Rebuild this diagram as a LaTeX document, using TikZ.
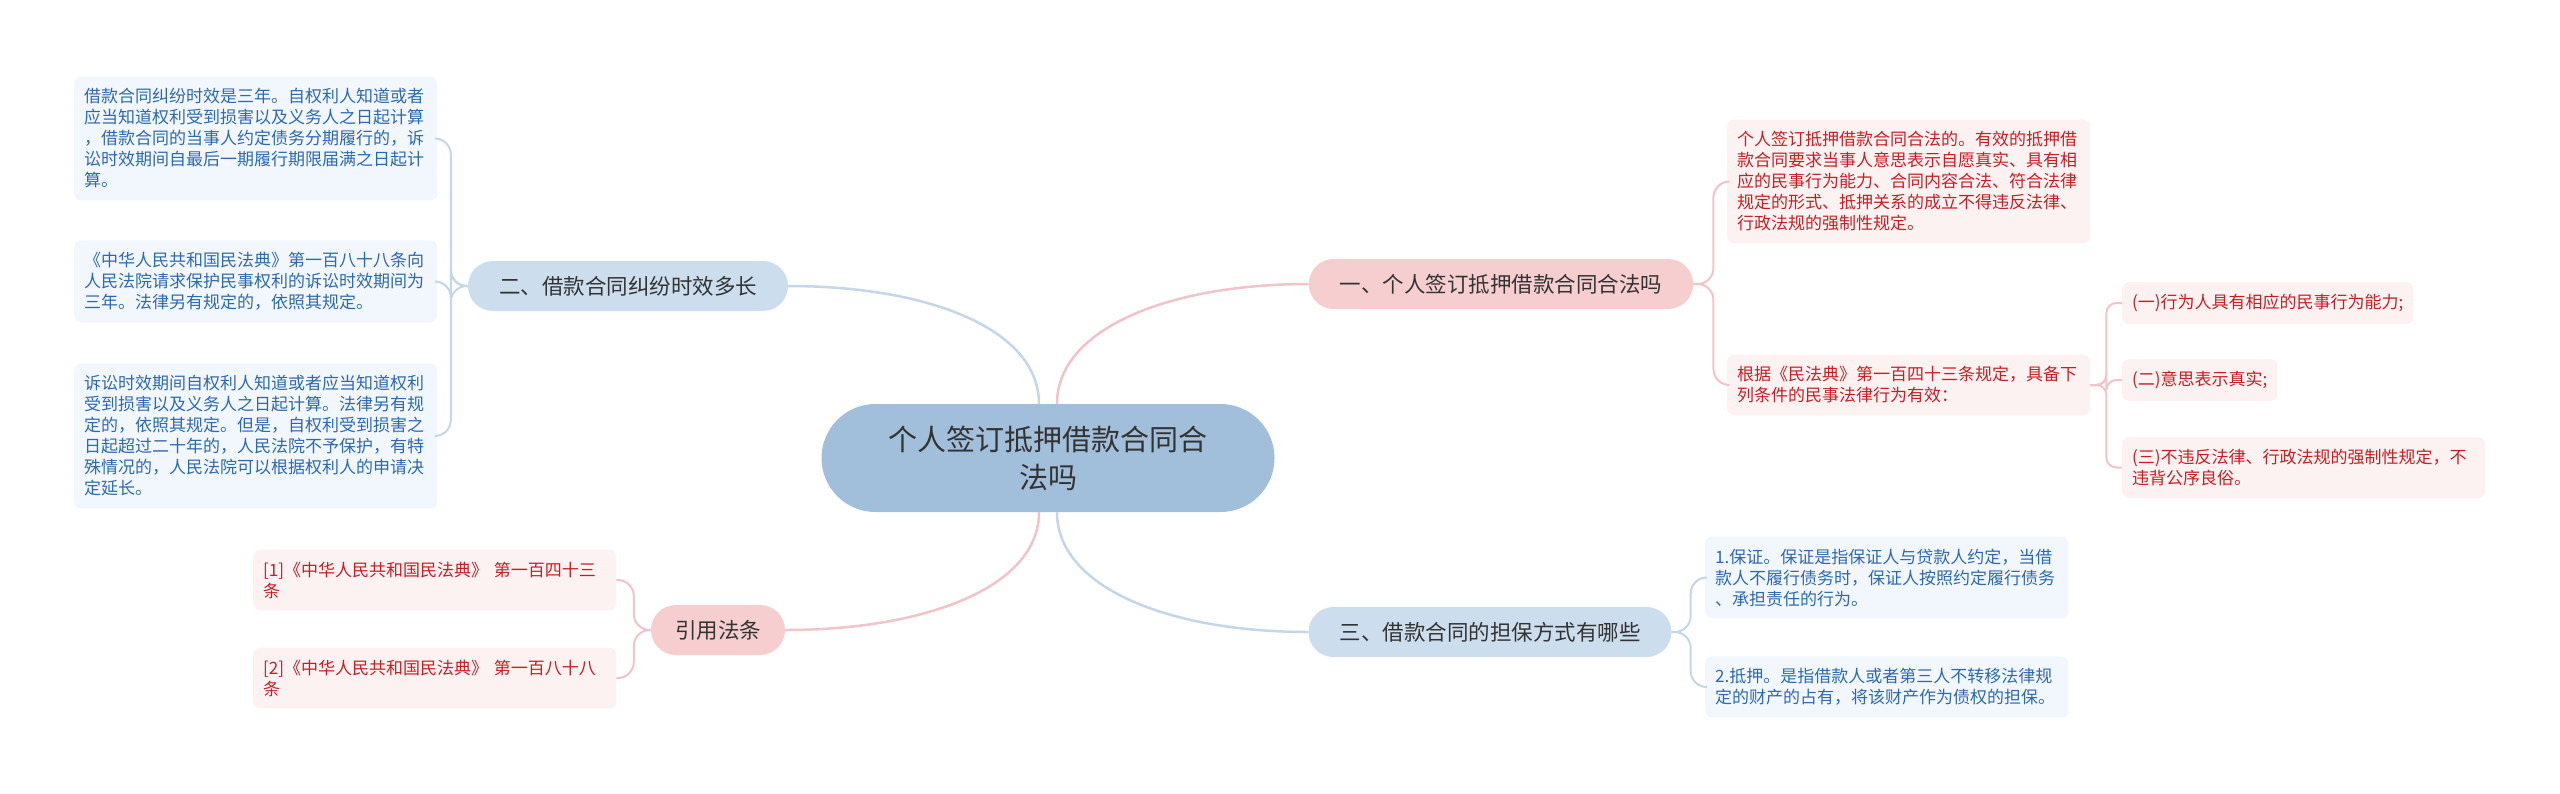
\documentclass[tikz,border=0pt]{standalone}
\usepackage{fontspec}
\setmainfont{Noto Sans CJK SC}
\usepackage{xcolor}
\usepackage{tikz}
\usetikzlibrary{positioning,calc}
\definecolor{ink}{RGB}{51,51,51}
\definecolor{hubblue}{RGB}{161,190,218}
\definecolor{paleblue}{RGB}{204,222,238}
\definecolor{palered}{RGB}{246,206,207}
\definecolor{mistblue}{RGB}{242,247,253}
\definecolor{mistred}{RGB}{253,242,242}
\definecolor{textblue}{RGB}{45,105,175}
\definecolor{textred}{RGB}{200,30,35}
\definecolor{wireblue}{RGB}{197,214,232}
\definecolor{wirered}{RGB}{240,196,200}
\tikzset{
  hub/.style={fill=hubblue,rounded corners=54pt,minimum width=453pt,
    minimum height=108pt,align=center,text=ink,font=\fontsize{29}{38}\selectfont},
  topic/.style={rounded corners=25pt,minimum height=50pt,inner xsep=31pt,
    text=ink,font=\fontsize{21.5}{26}\selectfont},
  topicred/.style={topic,fill=palered},
  topicblue/.style={topic,fill=paleblue},
  leaf/.style={anchor=west,rounded corners=7pt,align=left,inner xsep=10pt,
    inner ysep=12pt,font=\fontsize{17}{21}\selectfont},
  leafblue/.style={leaf,fill=mistblue,text=textblue},
  leafred/.style={leaf,fill=mistred,text=textred},
  wide/.style={text width=343pt},
  linkblue/.style={line width=2.5pt,wireblue},
  linkred/.style={line width=2.5pt,wirered},
  forkblue/.style={line width=2pt,wireblue,rounded corners=16pt},
  forkred/.style={line width=2pt,wirered,rounded corners=16pt}
}
\begin{document}
\begin{tikzpicture}[x=1pt,y=-1pt]
  \fill[white] (0,0) rectangle (2560,793);
  \useasboundingbox (0,0) rectangle (2560,793);
  % centre and main topics
  \node[hub] (c) at (1048,458) {个人签订抵押借款合同合\\法吗};
  \node[topicred] (n1) at (1501,284) {一、个人签订抵押借款合同合法吗};
  \node[topicblue] (n2) at (628,286) {二、借款合同纠纷时效多长};
  \node[topicblue] (n3) at (1490,632) {三、借款合同的担保方式有哪些};
  \node[topicred,inner xsep=24pt] (n4) at (718,630) {引用法条};
  % left leaves
  \node[leafblue,wide] (l1) at (74,138.5) {借款合同纠纷时效是三年。自权利人知道或者\\应当知道权利受到损害以及义务人之日起计算\\，借款合同的当事人约定债务分期履行的，诉\\讼时效期间自最后一期履行期限届满之日起计\\算。};
  \node[leafblue,wide] (l2) at (74,281.5) {《中华人民共和国民法典》第一百八十八条向\\人民法院请求保护民事权利的诉讼时效期间为\\三年。法律另有规定的，依照其规定。};
  \node[leafblue,wide] (l3) at (74,436) {诉讼时效期间自权利人知道或者应当知道权利\\受到损害以及义务人之日起计算。法律另有规\\定的，依照其规定。但是，自权利受到损害之\\日起超过二十年的，人民法院不予保护，有特\\殊情况的，人民法院可以根据权利人的申请决\\定延长。};
  \node[leafred,wide] (k1) at (253,580) {[1]《中华人民共和国民法典》 第一百四十三\\条};
  \node[leafred,wide] (k2) at (253,678) {[2]《中华人民共和国民法典》 第一百八十八\\条};
  % right leaves
  \node[leafred,wide] (r1) at (1727,181.5) {个人签订抵押借款合同合法的。有效的抵押借\\款合同要求当事人意思表示自愿真实、具有相\\应的民事行为能力、合同内容合法、符合法律\\规定的形式、抵押关系的成立不得违反法律、\\行政法规的强制性规定。};
  \node[leafred,wide] (r2) at (1727,385) {根据《民法典》第一百四十三条规定，具备下\\列条件的民事法律行为有效：};
  \node[leafred] (s1) at (2122,303) {(一)行为人具有相应的民事行为能力;};
  \node[leafred] (s2) at (2122,380) {(二)意思表示真实;};
  \node[leafred,wide] (s3) at (2122,467.5) {(三)不违反法律、行政法规的强制性规定，不\\违背公序良俗。};
  \node[leafblue,wide] (t1) at (1705,577.5) {1.保证。保证是指保证人与贷款人约定，当借\\款人不履行债务时，保证人按照约定履行债务\\、承担责任的行为。};
  \node[leafblue,wide] (t2) at (1705,687) {2.抵押。是指借款人或者第三人不转移法律规\\定的财产的占有，将该财产作为债权的担保。};
  % main curves
  \draw[linkblue] ([xshift=-9pt]c.north) .. controls +(0,-75) and +(140,0) .. (n2.east);
  \draw[linkred] ([xshift=9pt]c.north) .. controls +(0,-75) and +(-140,0) .. (n1.west);
  \draw[linkred] ([xshift=-9pt]c.south) .. controls +(0,75) and +(140,0) .. (n4.east);
  \draw[linkblue] ([xshift=9pt]c.south) .. controls +(0,75) and +(-140,0) .. (n3.west);
  % brackets
  \foreach \leafname in {l1,l2,l3} {\draw[forkblue] (n2.west) -- ++(-17,0) |- (\leafname.east);}
  \foreach \leafname in {k1,k2} {\draw[forkred] (n4.west) -- ++(-17,0) |- (\leafname.east);}
  \foreach \leafname in {r1,r2} {\draw[forkred] (n1.east) -- ++(20,0) |- (\leafname.west);}
  \foreach \leafname in {s1,s2,s3} {\draw[forkred,rounded corners=10pt] (r2.east) -- ++(16,0) |- (\leafname.west);}
  \foreach \leafname in {t1,t2} {\draw[forkblue] (n3.east) -- ++(19,0) |- (\leafname.west);}
\end{tikzpicture}
\end{document}
